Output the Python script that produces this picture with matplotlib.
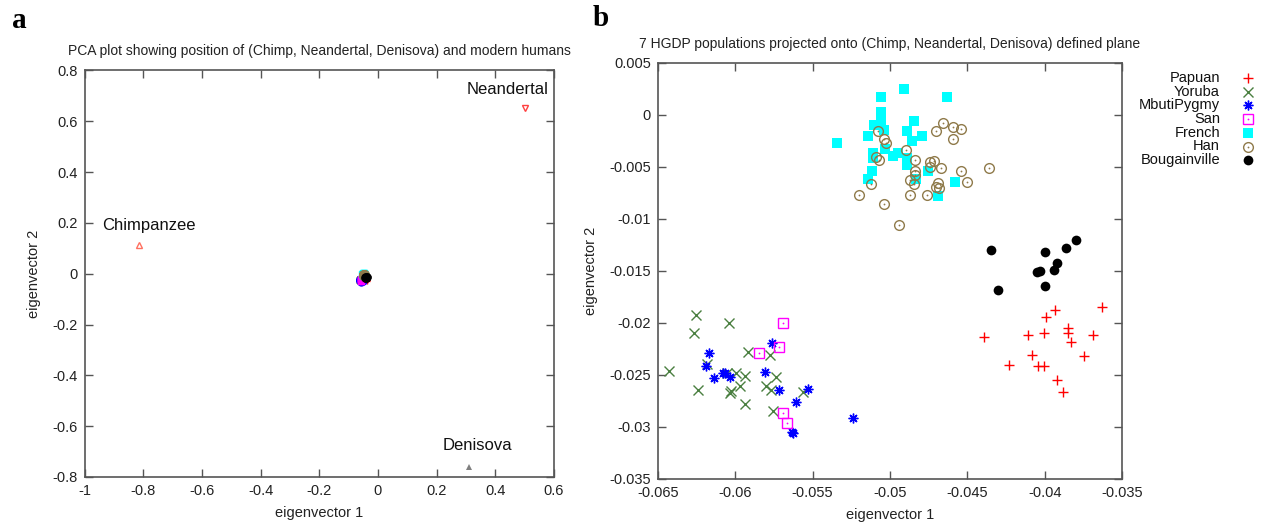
import matplotlib
matplotlib.use("Agg")
import matplotlib.pyplot as plt

plt.rcParams["font.family"] = ["Liberation Sans", "DejaVu Sans"]

# archaic genomes + chimp on the full PCA plane
archaic_names = ["Chimpanzee", "Neandertal", "Denisova"]
archaic_x = [-0.815, 0.50, 0.31]
archaic_y = [0.112, 0.652, -0.76]

# HGDP samples projected onto the (Chimp, Neandertal, Denisova) plane
papuan_x = [-0.03629, -0.03931, -0.03989, -0.03851, -0.03849, -0.04002, -0.0411, -0.0439, -0.0369,
            -0.0383, -0.0408, -0.03748, -0.04231, -0.04045, -0.04002, -0.03922, -0.0388]
papuan_y = [-0.01849, -0.01875, -0.01946, -0.02051, -0.02093, -0.02093, -0.02115, -0.02138, -0.02115,
            -0.02186, -0.02308, -0.02314, -0.02407, -0.02413, -0.02413, -0.02548, -0.02667]

yoruba_x = [-0.06256, -0.06267, -0.06039, -0.05918, -0.05778, -0.06185, -0.06429, -0.05996, -0.05938,
            -0.05737, -0.05802, -0.05769, -0.0597, -0.06239, -0.06034, -0.0603, -0.05938, -0.05758,
            -0.05561, -0.06056]
yoruba_y = [-0.01923, -0.02093, -0.02003, -0.02276, -0.02308, -0.02394, -0.02462, -0.02484, -0.02507,
            -0.02516, -0.02606, -0.02644, -0.02606, -0.02644, -0.02676, -0.02654, -0.02779, -0.02843,
            -0.02667, -0.02478]

mbuti_x = [-0.06168, -0.0619, -0.06136, -0.06082, -0.06067, -0.06034, -0.05808, -0.05761, -0.05718,
           -0.05608, -0.05528, -0.05636, -0.0563, -0.05237]
mbuti_y = [-0.02292, -0.02413, -0.02526, -0.02478, -0.02484, -0.02523, -0.02468, -0.02195, -0.02644,
           -0.02757, -0.02635, -0.03045, -0.03055, -0.02917]

san_x = [-0.05692, -0.05849, -0.05718, -0.05692, -0.05664]
san_y = [-0.01997, -0.02285, -0.02234, -0.02869, -0.02958]

french_x = [-0.04912, -0.0506, -0.04632, -0.0506, -0.0506, -0.04847, -0.05102, -0.05037, -0.04888,
            -0.0514, -0.04791, -0.05341, -0.0486, -0.0503, -0.05112, -0.0495, -0.04979, -0.05108,
            -0.04888, -0.04888, -0.04752, -0.05118, -0.0514, -0.04832, -0.0458, -0.04688]
french_y = [0.00247, 0.0017, 0.0017, 0.00026, -0.00048, -0.00061, -0.00099, -0.00144, -0.00154,
            -0.00202, -0.00205, -0.00272, -0.00247, -0.0033, -0.00369, -0.00369, -0.00394, -0.00417,
            -0.00417, -0.00481, -0.00535, -0.00542, -0.00619, -0.00619, -0.00648, -0.00779]

han_x = [-0.04659, -0.04591, -0.04539, -0.04701, -0.05078, -0.04591, -0.05039, -0.05026, -0.04899,
         -0.05091, -0.05069, -0.04838, -0.04741, -0.04716, -0.04741, -0.04668, -0.04358, -0.04838,
         -0.04838, -0.04539, -0.04871, -0.04843, -0.05121, -0.045, -0.0469, -0.04703, -0.04681,
         -0.05198, -0.04871, -0.04761, -0.05039, -0.0494]
han_y = [-0.00074, -0.00112, -0.00135, -0.00154, -0.00154, -0.00234, -0.00234, -0.00272, -0.00333,
         -0.00407, -0.00433, -0.00433, -0.00449, -0.00439, -0.00503, -0.00513, -0.00513, -0.00538,
         -0.00577, -0.00542, -0.00625, -0.00667, -0.00667, -0.00644, -0.00657, -0.00689, -0.00705,
         -0.00766, -0.00766, -0.00766, -0.00856, -0.01055]

bougainville_x = [-0.04349, -0.03799, -0.03862, -0.04, -0.0392, -0.0394, -0.0403, -0.04052, -0.04, -0.043]
bougainville_y = [-0.01295, -0.01205, -0.01276, -0.01317, -0.01426, -0.01487, -0.01497, -0.01507,
                  -0.01644, -0.01686]

populations = ["Papuan", "Yoruba", "MbutiPygmy", "San", "French", "Han", "Bougainville"]
pop_x = [papuan_x, yoruba_x, mbuti_x, san_x, french_x, han_x, bougainville_x]
pop_y = [papuan_y, yoruba_y, mbuti_y, san_y, french_y, han_y, bougainville_y]

xticks_a = [-1, -0.8, -0.6, -0.4, -0.2, 0, 0.2, 0.4, 0.6]
yticks_a = [-0.8, -0.6, -0.4, -0.2, 0, 0.2, 0.4, 0.6, 0.8]
xticks_b = [-0.065, -0.06, -0.055, -0.05, -0.045, -0.04, -0.035]
yticks_b = [0.005, 0, -0.005, -0.01, -0.015, -0.02, -0.025, -0.03, -0.035]

# gnuplot-like point styles: (marker, colour, filled, centre dot)
styles = [
    ("+", "#ff0000", False, False),
    ("x", "#4a7f40", False, False),
    ((8, 2, 0), "#0000ff", False, False),
    ("s", "#ff00ff", False, True),
    ("s", "#00ffff", True, False),
    ("o", "#8f7a4a", False, True),
    ("o", "#000000", True, False),
]

W, H = 1261, 522
fig = plt.figure(figsize=(W / 100, H / 100), dpi=100)
ax_a = fig.add_axes([84.6 / W, 45 / H, 469.4 / W, 406.5 / H])
ax_b = fig.add_axes([658 / W, 43 / H, 464 / W, 416 / H])

tick_col = "#222222"
spine_col = "#555555"


def style_axes(ax, xticks, yticks):
    ax.set_xticks(xticks)
    ax.set_yticks(yticks)
    ax.set_xticklabels(["%g" % t for t in xticks])
    ax.set_yticklabels(["%g" % t for t in yticks])
    ax.tick_params(direction="in", length=6, width=1, color=spine_col, labelsize=10.5,
                   labelcolor=tick_col, top=True, right=True, pad=5)
    for s in ax.spines.values():
        s.set_color(spine_col)
        s.set_linewidth(1.2)
    ax.set_xlabel("eigenvector 1", fontsize=10.5, color=tick_col, labelpad=6)
    ax.set_ylabel("eigenvector 2", fontsize=10.5, color=tick_col, labelpad=8)


def draw_pop(ax, x, y, style, ms, mew):
    marker, col, filled, dot = style
    if filled:
        ax.plot(x, y, ls="none", marker=marker, ms=ms, color=col, mec=col, mew=0)
    else:
        ax.plot(x, y, ls="none", marker=marker, ms=ms, mfc="none", mec=col, mew=mew)
    if dot:
        ax.plot(x, y, ls="none", marker="o", ms=1.3, color=col, mew=0)


# panel a: full PCA with archaic samples
for x, y, st in zip(pop_x, pop_y, styles):
    marker, col, filled, dot = st
    ax_a.plot(x, y, ls="none", marker=marker if marker != (8, 2, 0) else "o", ms=5,
              color=col, mec=col, mew=1)
ax_a.plot(archaic_x[0], archaic_y[0], ls="none", marker="^", ms=5, mfc="none", mec="#ff7060", mew=1)
ax_a.plot(archaic_x[1], archaic_y[1], ls="none", marker="v", ms=5, mfc="none", mec="#ff4040", mew=1)
ax_a.plot(archaic_x[2], archaic_y[2], ls="none", marker="^", ms=5, color="#7f7f7f", mew=0)
label_pos = [(-0.78, 0.19), (0.443, 0.727), (0.34, -0.677)]
for name, (lx, ly) in zip(archaic_names, label_pos):
    ax_a.text(lx, ly, name, ha="center", va="center", fontsize=12, color="#111111")
ax_a.set_xlim(-1, 0.6)
ax_a.set_ylim(-0.8, 0.8)
style_axes(ax_a, xticks_a, yticks_a)
ax_a.set_title("PCA plot showing position of (Chimp, Neandertal, Denisova) and modern humans",
               fontsize=10, color=tick_col, pad=11)

# panel b: zoom on the modern populations
for x, y, st in zip(pop_x, pop_y, styles):
    draw_pop(ax_b, x, y, st, ms=7, mew=1)
ax_b.set_xlim(-0.065, -0.035)
ax_b.set_ylim(-0.035, 0.005)
style_axes(ax_b, xticks_b, yticks_b)
ax_b.set_title("7 HGDP populations projected onto (Chimp, Neandertal, Denisova) defined plane",
               fontsize=10, color=tick_col, pad=11)

# key on the right, gnuplot style (label first, then point)
for i, (name, st) in enumerate(zip(populations, styles)):
    ypx = 78 + 13.7 * i
    fig.text(1220 / W, 1 - ypx / H, name, ha="right", va="center", fontsize=10.5, color="#111111")
    marker, col, filled, dot = st
    key = dict(ls="none", marker=marker, ms=7, transform=fig.transFigure, clip_on=False)
    if filled:
        ax_b.plot([1248 / W], [1 - ypx / H], color=col, mew=0, **key)
    else:
        ax_b.plot([1248 / W], [1 - ypx / H], mfc="none", mec=col, mew=1, **key)
    if dot:
        ax_b.plot([1248 / W], [1 - ypx / H], ls="none", marker="o", ms=1.3, color=col, mew=0,
                  transform=fig.transFigure, clip_on=False)

fig.text(12 / W, 1 - 20 / H, "a", fontsize=21, fontweight="bold", family="Liberation Serif",
         va="center", ha="left")
fig.text(593 / W, 1 - 18 / H, "b", fontsize=21, fontweight="bold", family="Liberation Serif",
         va="center", ha="left")

fig.savefig("out.png", dpi=100)
